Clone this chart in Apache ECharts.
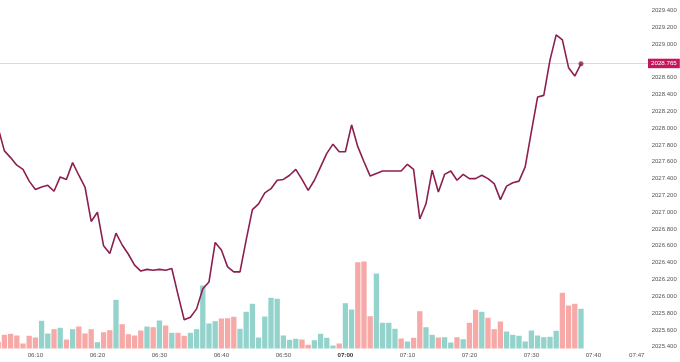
<!DOCTYPE html>
<html><head><meta charset="utf-8">
<script src="https://cdn.jsdelivr.net/npm/echarts@6/dist/echarts.min.js"></script>
<style>html,body{margin:0;padding:0;background:#fff}#c{width:680px;height:362px}</style>
</head><body><div id="c"></div>
<script>
// ---- data ----
const startTime = '06:04';           // time of first bar / price point (1-minute bars)
const timeTicks = ['06:10','06:20','06:30','06:40','06:50','07:00','07:10','07:20','07:30','07:40','07:47'];
const price = [
 2028.00,2027.73,2027.65,2027.56,2027.51,2027.37,2027.27,2027.30,2027.32,2027.25,
 2027.42,2027.39,2027.59,2027.44,2027.30,2026.89,2027.00,2026.60,2026.51,2026.75,
 2026.61,2026.50,2026.37,2026.30,2026.32,2026.31,2026.32,2026.31,2026.33,2026.02,
 2025.72,2025.75,2025.85,2026.09,2026.17,2026.64,2026.55,2026.35,2026.29,2026.29,
 2026.67,2027.03,2027.10,2027.23,2027.28,2027.38,2027.39,2027.44,2027.51,2027.39,
 2027.26,2027.38,2027.54,2027.70,2027.81,2027.72,2027.72,2028.04,2027.78,2027.60,
 2027.43,2027.46,2027.49,2027.49,2027.49,2027.49,2027.57,2027.51,2026.92,2027.10,
 2027.50,2027.24,2027.45,2027.49,2027.38,2027.45,2027.40,2027.40,2027.44,2027.40,
 2027.34,2027.15,2027.31,2027.35,2027.37,2027.54,2027.96,2028.37,2028.39,2028.81,
 2029.11,2029.05,2028.72,2028.62,2028.765
];
const volume = [
 6.7,13.7,14.7,13,5,12.7,11,27.7,15,19.3,
 20.7,9,19.3,22,15,19.3,6.3,16.3,18.3,48.7,
 24.3,14.3,13,18,22,21.3,28,23,15.7,15.7,
 12.7,15.7,19.3,63,25,27.3,30,30.3,31.7,19.7,
 36.7,44.7,11,32,50.7,49.7,13,8.7,9.7,9,
 3.7,8.3,14.7,10.7,3,5,45.3,39,86.3,87,
 32.3,75,25.7,25.7,19.7,10,7,10.7,37.3,21.3,
 13.7,11,11.3,6,11.3,9.3,25.7,38.7,36.7,30.7,
 19.3,27,17,13.7,12.7,7,18,13,11.3,11.7,
 17.7,55.7,43,44.7,39.7
];
const volumeDir = [
 'd','d','d','d','d','d','d','u','u','d',
 'u','d','u','d','d','d','u','d','d','u',
 'd','d','d','d','u','d','u','d','u','d',
 'd','u','u','u','u','u','d','d','d','u',
 'u','u','u','u','u','u','u','u','u','d',
 'd','u','u','u','u','d','u','u','d','d',
 'd','u','u','u','u','d','u','d','d','u',
 'u','d','u','u','d','u','d','d','u','d',
 'd','d','u','u','u','u','u','u','u','u',
 'u','d','d','d','u'
];
const lastPrice = 2028.765;
const priceMin = 2025.4, priceMax = 2029.4, priceStep = 0.2;

// ---- helpers ----
function toMin(s){const p=s.split(':').map(Number);return p[0]*60+p[1];}
function fmt(t){t=Math.round(t);return String(Math.floor(t/60)).padStart(2,'0')+':'+String(t%60).padStart(2,'0');}
const t0 = toMin(startTime);
const times = price.map(function(_,i){return t0+i;});
const tickMins = timeTicks.map(toMin);

const UP='#93d3cb', DOWN='#f6a9a6', LINE='#8c1f4f', TAG='#c2185b';
const FONT='Liberation Sans';
const xMin = 364.29, xMax = 468.81;   // visible time window (minutes of day)

const xBase = {type:'value', min:xMin, max:xMax, splitLine:{show:false}, axisLine:{show:false}, axisTick:{show:false}};

const chart = echarts.init(document.getElementById('c'), null, {renderer:'canvas'});
chart.setOption({
  animation:false,
  backgroundColor:'#ffffff',
  grid:[
    {left:0, right:32, top:10.5, bottom:15.3},
    {left:0, right:32, top:248.5, bottom:13.5}
  ],
  xAxis:[
    Object.assign({gridIndex:0, axisLabel:{show:false}}, xBase),
    Object.assign({gridIndex:1,
     axisLabel:{
       customValues:tickMins, showMinLabel:true, showMaxLabel:true, hideOverlap:false,
       formatter:function(v){const s=fmt(v);return Math.round(v)%60===0?'{b|'+s+'}':s;},
       fontSize:6.2, color:'#555', fontFamily:FONT, margin:4,
       rich:{b:{fontWeight:'bold',fontSize:6.2,color:'#333',fontFamily:FONT}}
     }}, xBase)
  ],
  yAxis:[
    {type:'value', gridIndex:0, position:'right', min:priceMin, max:priceMax, interval:priceStep,
     axisLine:{show:false}, axisTick:{show:false}, splitLine:{show:false},
     axisLabel:{formatter:function(v){return v.toFixed(3);}, fontSize:6, color:'#555', fontFamily:FONT, margin:3.7}},
    {type:'value', gridIndex:1, min:0, max:100, show:false}
  ],
  series:[
    {type:'bar', xAxisIndex:1, yAxisIndex:1, barWidth:5.3,
     data:volume.map(function(v,i){return {value:[times[i],v],itemStyle:{color:volumeDir[i]==='u'?UP:DOWN}};})},
    {type:'line', xAxisIndex:0, yAxisIndex:0, data:price.map(function(v,i){return [times[i],v];}),
     symbol:'none', smooth:false, z:3,
     lineStyle:{color:LINE, width:1.6},
     markLine:{silent:true, symbol:'none', animation:false, z:1,
       lineStyle:{color:'#e8d3db', width:1, type:'solid'},
       label:{position:'end', distance:0, formatter:lastPrice.toFixed(3), backgroundColor:TAG,
              color:'#fff', fontSize:6.2, fontFamily:FONT, padding:[2,3,1.5,3]},
       data:[{yAxis:lastPrice}]}},
    {type:'scatter', xAxisIndex:0, yAxisIndex:0, symbol:'circle', symbolSize:5, z:10,
     itemStyle:{color:LINE},
     data:[[times[times.length-1], price[price.length-1]]]}
  ]
});
</script></body></html>
